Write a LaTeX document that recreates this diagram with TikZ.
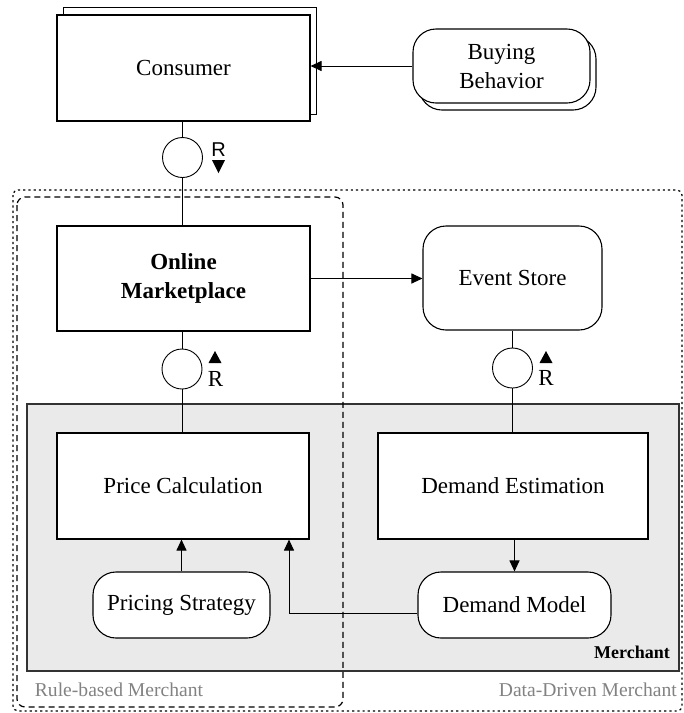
\documentclass[tikz,border=0pt]{standalone}
\usepackage{fontspec}
\setmainfont{Liberation Serif}
\newfontfamily\sanslabel{Liberation Sans}
\usetikzlibrary{arrows.meta}
\definecolor{panelgray}{RGB}{234,234,234}
\definecolor{notegray}{RGB}{130,130,130}
\begin{document}
\begin{tikzpicture}[x=1pt,y=-1pt,
  box/.style={draw, line width=1.1pt, fill=white, align=center, inner sep=0pt,
    font=\fontsize{23}{29}\selectfont},
  roundbox/.style={box, rounded corners=23pt},
  port/.style={draw, circle, line width=0.9pt, minimum size=40pt, inner sep=0pt, fill=white},
  link/.style={line width=1pt},
  flow/.style={link, -{Triangle[length=11pt,width=10pt]}},
  rlabel/.style={inner sep=0pt, font=\fontsize{23}{23}\selectfont},
  region/.style={inner sep=0pt, text=notegray, font=\fontsize{19.6}{20}\selectfont},
]
\useasboundingbox (0,0) rectangle (684,713);

% merchant panel
\node[draw=black!80, line width=1.5pt, fill=panelgray, minimum width=652pt, minimum height=267pt,
  inner sep=0pt] (merchantpanel) at (353,537.5) {};
\node[anchor=east, inner sep=0pt, font=\bfseries\fontsize{18}{18}\selectfont]
  (merchantlabel) at (670,652) {Merchant};

% merchant type regions
\draw[line width=1.2pt, dash pattern=on 2.2pt off 3pt, rounded corners=5pt]
  (13,190) rectangle (682,711);
\draw[line width=1.2pt, dash pattern=on 6pt off 4pt, rounded corners=8pt]
  (17,197) rectangle (343,707);
\node[region] (rulebased) at (119,690) {Rule-based Merchant};
\node[region, anchor=east] (datadriven) at (677,690) {Data-Driven Merchant};

% consumer side
\node[box, minimum width=252.5pt, minimum height=106.5pt] (consumerback) at (189.8,60.8) {};
\node[box, minimum width=253pt, minimum height=106pt] (consumer) at (183.5,68) {Consumer};
\node[roundbox, minimum width=177pt, minimum height=74pt] (buyingback) at (507.5,73) {};
\node[roundbox, minimum width=177pt, minimum height=74pt] (buying) at (501.5,66) {Buying\\Behavior};

% marketplace and event store
\node[box, font=\bfseries\fontsize{23}{29}\selectfont, minimum width=253pt, minimum height=105pt]
  (market) at (183.5,278.5) {Online\\Marketplace};
\node[roundbox, minimum width=179pt, minimum height=104pt] (event) at (512.5,278) {Event Store};

% merchant components
\node[box, minimum width=252pt, minimum height=106pt] (price) at (183,486) {Price Calculation};
\node[box, minimum width=270pt, minimum height=106pt] (demest) at (513,486) {Demand Estimation};
\node[roundbox, minimum width=177pt, minimum height=66pt] (pricing) at (181.5,605) {Pricing Strategy};
\node[roundbox, minimum width=193pt, minimum height=66pt] (demmod) at (514.5,605) {Demand Model};

% request ports
\node[port] (port1) at (182.5,157.5) {};
\node[port] (port2) at (182,369) {};
\node[port] (port3) at (512.5,368) {};

% connectors
\draw[link] (port1.north) -- (port1.north |- consumer.south);
\draw[link] (port1.south) -- (port1.south |- market.north);
\draw[link] (port2.north) -- (port2.north |- market.south);
\draw[link] (port2.south) -- (port2.south |- price.north);
\draw[link] (port3.north) -- (port3.north |- event.south);
\draw[link] (port3.south) -- (port3.south |- demest.north);

\draw[flow] (buying.west) -- (buying.west -| consumer.east);
\draw[flow] (market.east) -- (market.east -| event.west);
\draw[flow] (pricing.north) -- (pricing.north |- price.south);
\draw[flow] (demest.south -| demmod.north) -- (demmod.north);
\coordinate (turn) at (289,613);
\draw[flow] (demmod.west |- turn) -- (turn) -- (turn |- price.south);

% request direction marks
\node[rlabel, font=\sanslabel\fontsize{20}{20}\selectfont] (r1) at (218.5,150) {R};
\fill (212,160) -- (225,160) -- (218.5,173) -- cycle;
\node[rlabel] (r2) at (215.5,379) {R};
\fill (208.5,363) -- (221.5,363) -- (215,351) -- cycle;
\node[rlabel] (r3) at (546,378) {R};
\fill (539.5,363) -- (552.5,363) -- (546,351) -- cycle;
\end{tikzpicture}
\end{document}
